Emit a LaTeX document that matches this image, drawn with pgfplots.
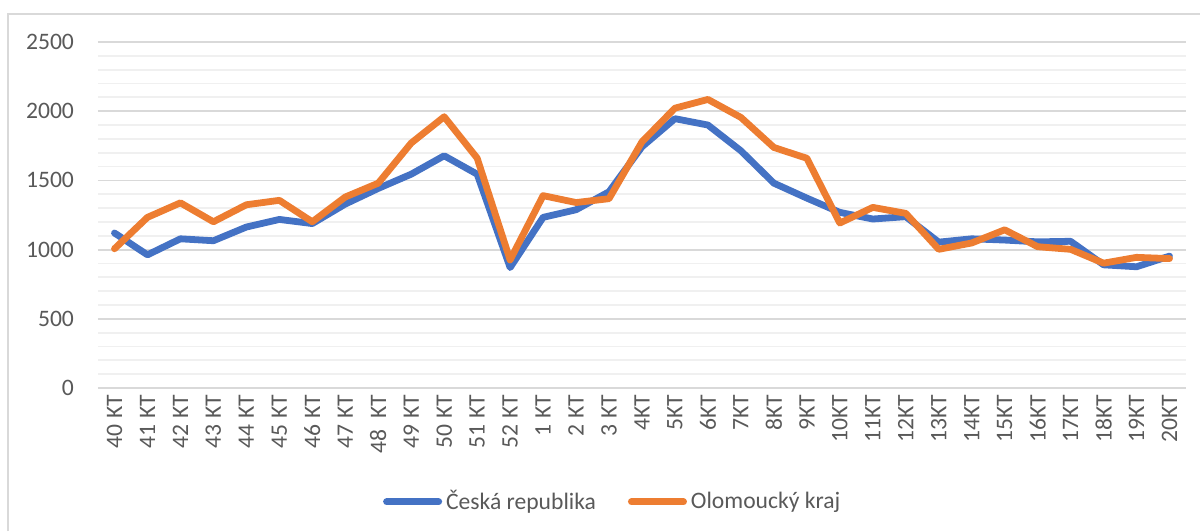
\documentclass[border=0pt]{standalone}
\usepackage{pgfplots}
\pgfplotsset{compat=1.18}
\usepackage{pgfplotstable}
\usepackage{fontspec}
\setmainfont{Carlito}
\definecolor{cblue}{HTML}{4472C4}
\definecolor{corange}{HTML}{ED7D31}
\definecolor{ctext}{HTML}{595959}
\definecolor{cmaj}{HTML}{D9D9D9}
\definecolor{cmin}{HTML}{F0F0F0}
\pgfplotstableread{
idx cr ok
0 1120 1006
1 962 1233
2 1078 1338
3 1064 1201
4 1163 1324
5 1218 1356
6 1188 1201
7 1329 1380
8 1442 1480
9 1545 1770
10 1678 1960
11 1545 1661
12 870 925
13 1233 1390
14 1288 1340
15 1418 1368
16 1743 1779
17 1946 2022
18 1900 2085
19 1714 1955
20 1480 1738
21 1372 1660
22 1269 1192
23 1221 1305
24 1238 1262
25 1054 1002
26 1078 1048
27 1069 1143
28 1056 1021
29 1060 1002
30 890 902
31 876 944
32 953 935
}\data
\begin{document}
\begin{tikzpicture}
\useasboundingbox (0,0) rectangle (600pt,265.5pt);
\draw[cmaj, line width=1pt] (4pt,0) -- (4pt,258.5pt) -- (600pt,258.5pt);
\begin{axis}[
  at={(49pt,71.5pt)}, anchor=south west,
  scale only axis, width=544pt, height=173pt,
  xmin=-0.5, xmax=32.5, ymin=0, ymax=2500,
  axis line style={draw=none},
  xtick={0,...,32},
  xticklabels={40 KT,41 KT,42 KT,43 KT,44 KT,45 KT,46 KT,47 KT,48~ KT,49 KT,50 KT,51 KT,52 KT,1 KT,2 KT,3 KT,4KT,5KT,6KT,7KT,8KT,9KT,10KT,11KT,12KT,13KT,14KT,15KT,16KT,17KT,18KT,19KT,20KT},
  ytick={0,500,...,2500},
  minor ytick={100,200,...,2400},
  major tick length=0pt, minor tick length=0pt,
  ymajorgrids, yminorgrids,
  major grid style={cmaj, line width=0.9pt},
  minor grid style={cmin, line width=0.9pt},
  tick label style={font=\fontsize{11.8}{14}\selectfont, text=ctext},
  /pgf/number format/assume math mode=true,
  /pgf/number format/1000 sep={},
  yticklabel style={anchor=east, xshift=-8.5pt},
  xticklabel style={rotate=90, anchor=east, xshift=0pt, yshift=0pt},
  legend columns=2,
  legend style={at={(0.474,-0.329)}, anchor=center, draw=none, fill=none,
    font=\fontsize{11.8}{14}\selectfont, text=ctext, inner sep=0pt,
    /tikz/every even column/.append style={column sep=14pt}},
  legend image code/.code={\draw[#1, line width=3.5pt, line cap=round] (0pt,0pt) -- (26pt,0pt);},
  clip=false,
]
\addplot[cblue, line width=3.4pt, line join=round, line cap=round] table[x=idx, y=cr] {\data};
\addlegendentry{Česká republika}
\addplot[corange, line width=3.4pt, line join=round, line cap=round] table[x=idx, y=ok] {\data};
\addlegendentry{Olomoucký kraj}
\end{axis}
\end{tikzpicture}
\end{document}
